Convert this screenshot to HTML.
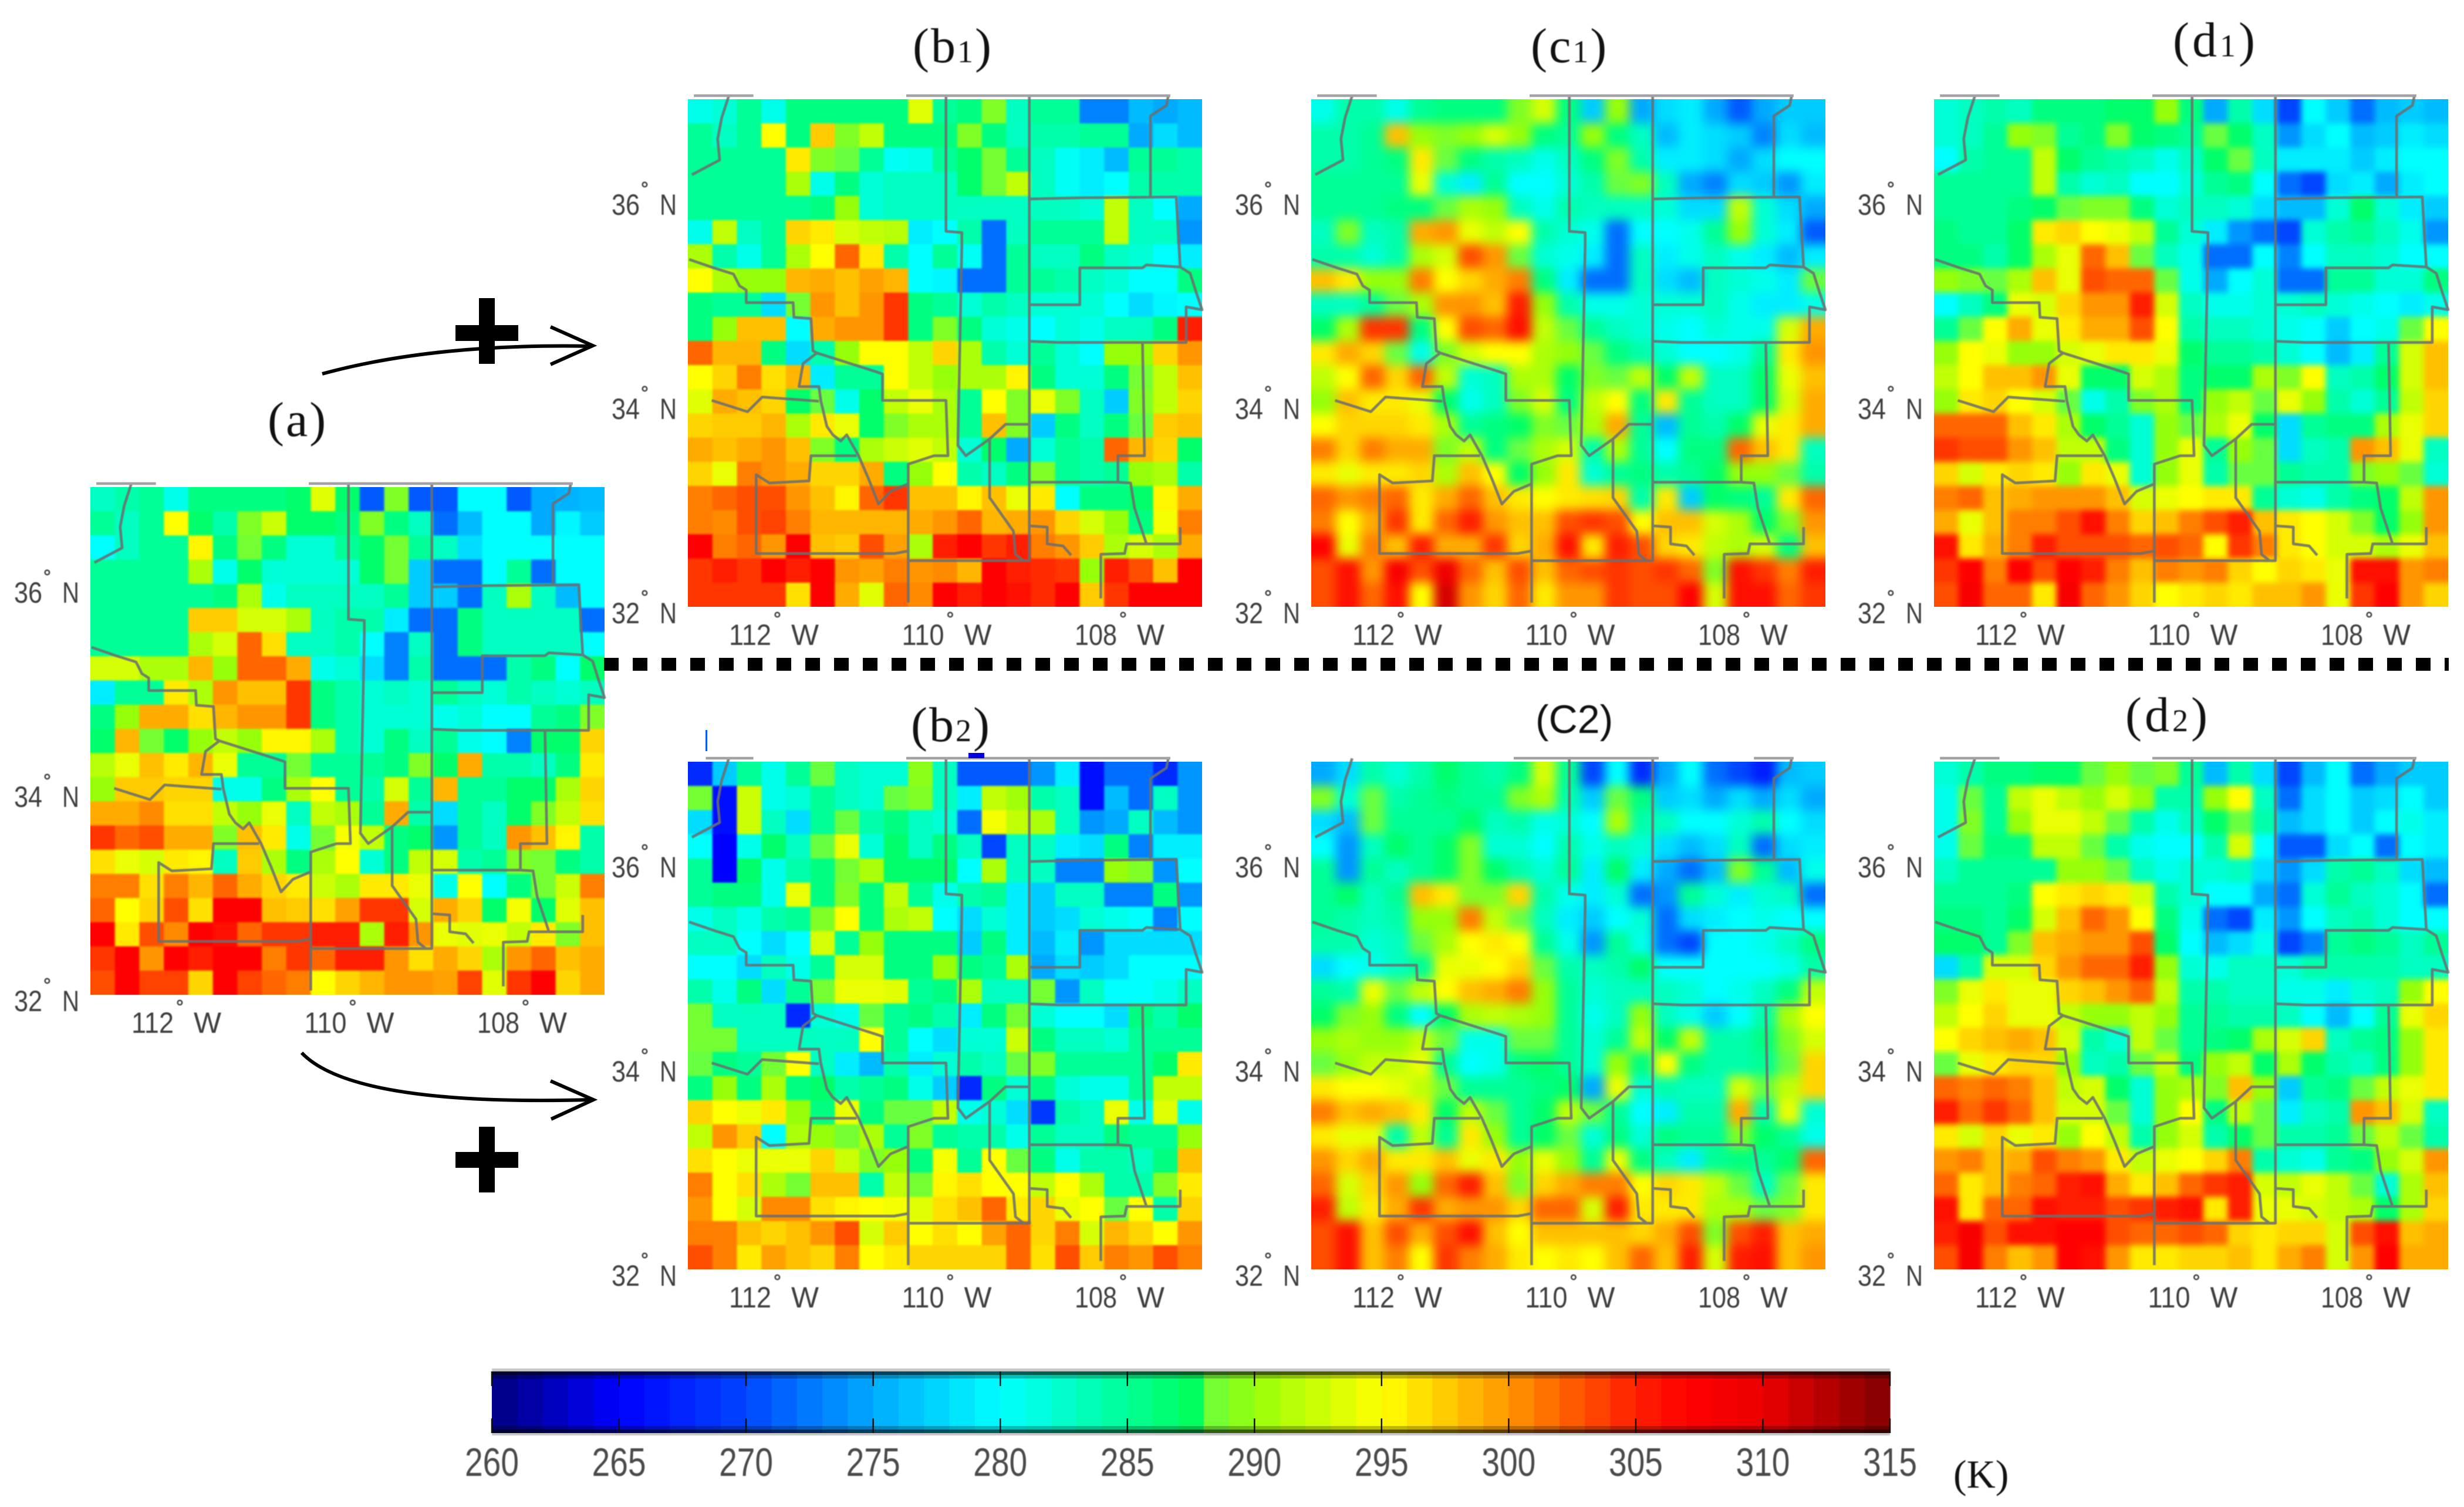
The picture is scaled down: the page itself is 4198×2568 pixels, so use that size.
<!DOCTYPE html>
<html lang="en">
<head>
<meta charset="utf-8">
<title>Brightness temperature maps</title>
<style>
html,body{margin:0;padding:0;background:#fff;}
svg{display:block;}
</style>
</head>
<body>
<svg id="figure" xmlns="http://www.w3.org/2000/svg" width="4198" height="2568" viewBox="0 0 4198 2568">
<defs>
<filter id="blurText" filterUnits="userSpaceOnUse" x="0" y="0" width="4198" height="2568" color-interpolation-filters="sRGB"><feGaussianBlur stdDeviation="0.9"/></filter>
<filter id="blurCoarse" filterUnits="userSpaceOnUse" x="0" y="0" width="4198" height="2568" color-interpolation-filters="sRGB"><feGaussianBlur stdDeviation="1.6"/></filter>
<filter id="blurSmooth" filterUnits="userSpaceOnUse" x="0" y="0" width="4198" height="2568" color-interpolation-filters="sRGB"><feGaussianBlur stdDeviation="9"/></filter>
<filter id="blurMedium" filterUnits="userSpaceOnUse" x="0" y="0" width="4198" height="2568" color-interpolation-filters="sRGB"><feGaussianBlur stdDeviation="5"/></filter>
</defs>
<rect width="4198" height="2568" fill="#ffffff"/>
<g id="panels"></g>

<g fill="#111" font-family="'Liberation Serif',serif" font-size="84" filter="url(#blurText)">
<text x="456" y="743" letter-spacing="3">(a)</text>
<text x="1555" y="106" letter-spacing="3">(b<tspan font-size="54">1</tspan>)</text>
<text x="2608" y="106" letter-spacing="3">(c<tspan font-size="54">1</tspan>)</text>
<text x="3702" y="96" letter-spacing="5">(d<tspan font-size="54">1</tspan>)</text>
<text x="1552" y="1263" letter-spacing="3">(b<tspan font-size="54">2</tspan>)</text>
<text x="2616" y="1249" font-family="'Liberation Sans',sans-serif" font-size="68">(C2)</text>
<text x="3621" y="1246" letter-spacing="5">(d<tspan font-size="54">2</tspan>)</text>
</g>

<line x1="1029" y1="1132" x2="4172" y2="1132" stroke="#000" stroke-width="22" stroke-dasharray="25 24"/>

<g fill="none" stroke="#000" stroke-width="6">
<path d="M549 637 Q740 585 1006 590"/>
<path d="M938 557 L1010 589 L938 621"/>
</g>
<g fill="none" stroke="#000" stroke-width="6">
<path d="M514 1794 Q600 1885 1006 1874"/>
<path d="M938 1842 L1011 1874 L939 1907"/>
</g>
<g fill="#000">
<rect x="776" y="554" width="107" height="27"/>
<rect x="816" y="508" width="27" height="112"/>
</g>
<g fill="#000">
<rect x="776" y="1963" width="107" height="27"/>
<rect x="816" y="1920" width="27" height="112"/>
</g>

<g fill="#0a5af0">
<rect x="1202" y="1244" width="3" height="36"/>
<rect x="1650" y="1283" width="27" height="9" fill="#0000e0"/>
</g>

<g id="colorbar"></g>
<text x="3328" y="2535" fill="#111" font-family="'Liberation Serif',serif" font-size="68" filter="url(#blurText)">(K)</text>
</svg>

<script>
const panelA = [
[283,284,285,281,286,286,286,286,287,293.5,287,271,289,271,271,280,280,271,275,275.5,276],
[285,283,285,295,287,284,289,292.5,287,287,286,289,286,283,272,276,280,280,275,279.5,277],
[280,283,285,285,295.5,286,288.5,286,282,282,285,287,288.5,285,283,278,280,280,280,280,280],
[285,285,285,285,291,281,287,282,282,282,282,287,288.5,277,272,272,280,285,272,280,280],
[285,285,285,285,285,286,291,281,283,283,283,283,285,277,277,272,283,291,283,276,280],
[285,285,285,285,297.5,297.5,293,293,291,283,284,284,279,272,272,286,283,283,283,283,272],
[285,285,285,285,291,293,302,296.5,283,283,284,280,273,283,272,286,283,283,283,283,280],
[293,293,291,291,298.5,290,302,302,299,281,282,278,273,284,272,272,272,284,286,280,287],
[279,285,285,296,291,300,298,298,304,286,284,282,283,282,285,283,282,284,283,282,283],
[286,290,299,299,296.5,298.5,300,300,304,286,284,282,282,282,281,282,280,280,285,286,289],
[287,298.5,288.5,287,290,292,290,295.5,295.5,291,284,282,286,283,285,281,280,273,287,287,297],
[291.5,294,298,296,298.5,294,285,285,288.5,285,285,285,286,289,287,299,284,284,283,286,296],
[290,297.5,297.5,297,297,281,281,286,291,295,285,284,293,285,298.5,285,285,287,287,291,297],
[299,299,300.5,296.5,296.5,292,290,294,283,292,291,285,299,284,278,285,283,287,289,292,296.5],
[304,302,303,299,299,289,298,296,281,288.5,294.5,292,286,287,274,285,283,300,298,295.5,284],
[296.5,294,293,296,295.5,283,297.5,291,286,291,295,282,286,292,293,284,285,289,288.5,286,284],
[301,301,296.5,301,298.5,302,299,297,296,292.5,291,296,296,294,281,295,280,286,288.5,292.5,301],
[302,295,297,303,296.5,307,307,298,297.5,296.5,299.5,304,304,293,299,297,287,294.5,287,293.5,298],
[307,296,303,300.5,307,306,302,304,304,305,305,291,305,300,294,293.5,294,292,296,289,298],
[304,307,300,307,305,307,307,301,304,302,305,305,300,296.5,299,297,291,300,302,298,299],
[303,307,303.5,303.5,297,307,303.5,302,301,295,297,298.5,300,300,299.5,303.5,293.5,304,307,297,299]
];
const panelB1 = [
[281,282,285,281,286,286,286,286,286,293.5,285,286,289,283,285,285,273,273,276,275,276],
[285,283,285,295,286,297.5,289,292,286,286,286,289,286,283,284,284,285,285,275,278,276],
[285,285,285,285,296,289,288,285,280.5,281,285,287,288.5,285,283,280.5,279,276,285,285,284],
[285,285,285,285,291,281,286,282,283,283,283,287,288.5,292,283,280.5,279,280,284,284,284],
[285,285,285,285,285,286,290,282,283,283,283,283,283,283,283,283,282,292,283,280,275],
[281,292,283,285,297,296,293,292,291.5,279,280,284,272,283,285,285,285,292,283,283,274],
[291,284,281,285,291,295,302,296,284,280,285,280.5,272,285,283,283,286,283,282,280,279],
[295,291,290,290,298.5,299,298,299.5,298.5,280,279.5,272,272,285,285,284,283,282,280,280,286],
[286,285,285,278,288.5,300,298,300,304,286,285,282,284,283,282,282,282,280,278,279.5,280],
[286,290,298,298,280,299,300,300,304,286,289,286,282,281,280,282,281,283,283,286,305],
[302,298.5,298.5,286,278,284,290,295,295,292,297,291,284,282,285,282,280,290,290,297,300],
[295,297,301,296.5,298.5,279,285,285,295,292,290,291,291,295.5,286,282,282,286,288.5,292,298],
[293.5,299,298,297,287,288,281,287,292,294,291,285,295,289,294,289,283,277,289,292,297],
[297,297.5,297.5,298.5,291,296,294,287,289,291,291,285,298,289,277,286,283,286,288,297.5,298],
[299,298,299,300,298,289,286,291,292.5,293.5,292,282,287,275,282,285,284,302,298.5,297,287],
[297,294,301,300,299,297,297,299,286,290,295,284,283,286,289,285,284,285,290,291,284],
[301,302,303,303,300,298,295.5,302,304,298,298,295.5,298,294,296,280,286,286,287,295.5,299],
[301,300.5,303,303.5,301,298.5,298.5,298.5,298.5,299,300,302,298.5,299,300,297,293,290,286,294.5,301],
[307,301,302,300,307,298,297.5,303,299.5,291,305,307,304,305,301,300,297.5,291,293,291,299],
[304,305,304,307,305,307,300,299.5,301,300,300.5,298.5,307,305,304.5,304,290,305,303,298,307],
[304,304,304,304,296.5,307,299,293.5,302,300.5,307,305,307,306,304.5,307,297.5,304,307,307,307]
];
const panelC1 = [
[281,284,284,281,285,286,286,286,289,293,286,277,290,275,278,279,275,271,275,277,277],
[284,284,285,298,290,289,290,293,290,286,285,290,286,283,276,279,278,277,273,278,276],
[284,284,285,286,296,288,286,284,283,281,283,286,289,284,279,279,278,275,278,280,280],
[285,285,285,285,294,282,279,285,280,280,282,284,288,289,283,275,273,278,277,274,279],
[285,285,285,286,286,288,291,290,283,281,284,283,283,283,282,278,278,292,282,278,275],
[283,289,283,284,299,300,294,292,295,284,282,281,272,280,280,281,285,290,282,279,271],
[284,284,282,284,291,293,303,300,288,282,281,279,272,283,279,281,283,281,279,276,279],
[298,296,290,290,301,295,297,299,301,286,279,272,272,283,278,276,283,282,281,279,288],
[283,283,285,288,291,300,300,298,305,290,284,281,281,282,282,282,283,281,279,279,281],
[287,291,304,304,286,295,303,302,306,292,288,285,283,282,281,280,282,281,281,293,299],
[296,299,297,288,281,289,293,295,295,291,290,288,286,284,282,280,280,281,285,296,300],
[292,295,302,297,302,292,282,283,291,291,287,289,288,292,287,292,283,283,287,294,298],
[290,298,296,296,294,287,281,283,289,293,286,292,295,286,296,285,283,283,287,293,299],
[295,297,297,297,296,291,285,286,287,289,288,291,299,285,276,285,284,287,294,296,299],
[301,297,301,299,299,289,292,286,288,291,293,284,291,285,280,286,286,302,298,296,283],
[296,294,296,296,297,291,298,295,287,290,296,282,285,286,284,285,287,290,290,288,284],
[302,300,301,302,296,299,302,298,296,295,296,296.5,297,284,296,277,287,286,285,296,302],
[301,295,299,304,296,302,305,300,298,298,303,304,303,295,298,298,293,291,287,289,300],
[307,294,301,298,305,299,299,304,297,299,306,296,305,303,297,296,292,291,293,286,298],
[303,306,300,308,303,309,302,298,303,298,302,303,304,303,304,302,289,306,304,301,305],
[303,306,302,306,295,311,300,297,302,296,300,300,304,303,303,307,293,306,306,302,304]
];
const panelD1 = [
[282,283,284,283,286,286,286,287,287,290,286,275,284,278,270,280,277,272,276,277,276],
[282,283,285,290,289,285,286,289,287,286,285,288,287,283,274,278,280,276,277,279,278],
[280,284,285,285,292,287,285,284,283,281,283,287,288,283,279,279,279,277,279,280,280],
[285,285,285,285,292,284,282,283,280,280,282,285,286,280,272,270,278,279,275,279,280],
[285,285,285,286,287,288,289,289,286,282,283,283,282,278,276,276,282,287,282,279,277],
[286,285,285,287,296,297,295,294,292,285,282,279,274,272,270,282,284,285,283,281,274],
[286,286,284,287,291,294,302,298,288,283,281,272,272,280,273,280,283,283,282,280,280],
[290,289,288,291,298,294,303,302,302,288,281,275,280,282,272,272,285,285,282,282,286],
[280,283,286,294,293,297,300,300,305,293,283,281,281,282,282,283,282,281,280,279,281],
[285,288,295,299,294,296,299,299,303,295,284,283,283,282,281,280,277,280,281,288,295],
[290,295,294,290,290,293,294,296,296,294,287,285,285,284,282,280,276,279,285,293,298],
[292,295,298,298,300,294,287,287,293,291,286,287,287,291,289,295,283,284,287,293,298],
[290,296,297,295,293,288,281,284,289,291,286,290,292,288,294,290,284,282,285,292,297],
[302,302,302,298,296,291,287,285,282,290,288,291,294,287,278,285,286,286,291,294,297],
[304,303,303,300,298,292,292,286,282,290,294,285,290,288,278,283,284,300,298,294,283],
[297,293,296,297,296,290,296,294,282,290,294,284,288,288,285,284,284,289,290,288,282],
[301,302,298,299,300,300,300,298,293,294,295,296,296,285,282,281,284,286,287,292,300],
[299,294,298,301,301,303,306,301,297,298,301,303,305,298,296,295,293,289,287,290,300],
[306,296,299,301,305,303,303,303,302,303,302,295,304,301,296,295,293,293,291,294,298],
[304,307,301,307,303,307,305,301,298,301,300,301,297,295,297,296,294,306,306,300,301],
[303,308,302,302,296,308,302,300,297,295,296,297,296,298,298,300,294,304,307,300,297]
];
const panelB2 = [
[268,277,285,281,285,288,283,282,282,289.5,283,271,271,271,274,279,266,272,272,268,274],
[288.5,266,292.5,281,282,285,283,282,288,289,283,279,292,290.5,284,283,266,276,272,283,274],
[278,266,292.5,283,278,285,288,284,286,283,282,272,294.5,292,291,283,274,275,283,276,274],
[280,265,281,287,283,288,294,282,287,283,286,283,270,283,283,279,278,286,273,279,279],
[285,265,287,281,284,286,288.5,291,287,287,287,280,291,283,283,273,273,290,289,274,280],
[285,286,286,281,294,286,289,286,292,285,281,284,285,279,277,283,283,273,273,286,274],
[281,283,281,284,285,289,295,286,291,292,280,278,282,279,277,278,282,281,280,273,280],
[283,283,280,278,280,293,285,290,286,286,286,277,286,279,276,279,274,278,278,278,278],
[280,280,278,283,281,285,293,293,286,286,290,286,285,291,275,278,277,278,280,280,280],
[284,281,286,278,285,288.5,294,294,293.5,285,286,291,283,283,288.5,274,283,280,280,281,283],
[288.5,283,283,283,268,282,281,288,285,286,284,279,286,288.5,282,280,280,278,286,284,287],
[288.5,288.5,283,283,283,283,283,295,285,280,278,282,282,292.5,286,283,283,282,285,285,285],
[288,286,285,288.5,295,283,279,276,284,279,282,284,283,288,289,285,285,285,285,287,296],
[286,290,286,291,286,287,284,285,286,281,277,268,286,282,286,282,281,281,285,292,292],
[297,295,294,296,290,286,294,286,288,288,292,281,282,278,269,284,283,294,281,293.5,281],
[292,300,297.5,280,291,290,288.5,291,285,289,285,284,284,281,285,283,283,286,285,285,290],
[296.5,295,294,294,294,297,292.5,289,290,286,294.5,285,295,288,286,281,284,284,283,286,298],
[301,295,296.5,291,288.5,298,298,284,292,288.5,295.5,296.5,295,295,292,295,291,284,284,289,296],
[300,295,293,300.5,300.5,296.5,295.5,295,294.5,293.5,296.5,298,302,296,297,294,295,288,295,284,297],
[301,301,298,297,298,300,303,293,297.5,295,296.5,295,299.5,302,297,301,293,298.5,297,295,300],
[303,301,296,299.5,298,297,301,295,296,297,297,297,297,302,296.5,303,297.5,301,300,303,301]
];
const panelC2 = [
[275,278,284,282,284,287,285,284,286,293,285,270,280,268,275,280,272,270,267,276,277],
[289,282,288,284,285,286,285,285,289,291,284,277,288,286,277,278,275,278,275,278,275],
[278,276,288,285,285,285,287,283,284,281,282,280,291,284,283,280,280,282,284,280,278],
[280,274,283,287,285,287,289,282,282,280,284,281,283,282,278,276,278,283,272,278,279],
[285,274,285,283,285,287,289,287,284,282,285,279,287,279,275,272,276,289,285,276,281],
[285,287,283,285,298,296,289,289,297,284,281,279,282,272,274,285,282,279,282,283,272],
[285,284,283,284,290,290,301,292,288,283,279,277,280,282,272,278,279,280,281,280,280],
[284,284,282,283,288,291,295,296,295,285,281,274,285,281,272,270,280,280,281,283,286],
[278,280,281,283,285,294,294,295,297,288,284,283,284,287,280,280,280,280,280,281,284],
[285,284,294,288,292,295,298,299,301,290,285,282,283,283,283,282,280,281,283,286,292],
[287,289,290,286,280,287,291,292,291,290,285,281,283,290,283,281,277,280,284,291,295],
[290,291,290,290,292,288,281,281,288,288,285,282,285,292,287,292,284,284,286,289,293],
[288,290,292,292,294,285,280,281,286,287,285,282,290,286,295,286,284,284,285,288,297],
[296,295,295,294,292,288,285,285,285,286,287,275,294,282,284,283,283,293,288,292,297],
[301,298,299,298,296,287,292,288,285,287,292,288,285,280,279,284,284,299,284,294,282],
[296,294,294,284,292,285,296,290,285,287,288,282,286,282,286,285,285,289,287,285,281],
[300,297,299,296,296,298,294,296,290,294,290,285,294,286,283,279,285,286,285,287,302],
[302,293,297,300,290,302,305,298,289,297,299,301,301,295,297,296,292,288,283,288,296],
[305,292,296,299,304,299,300,300,297,302,302,293,305,296,296,296,291,291,288,289,296],
[303,306,298,303,299,303,306,298,295,298,298,298,298,297,299,303,289,303,305,298,299],
[303,306,298,301,295,304,301,299,296,295,296,295,298,302,298,305,293,305,306,298,300]
];
const panelD2 = [
[282,284,286,286,287,287,288,290,288,289,285,276,284,278,270,276,280,272,275,277,277],
[281,288,285,292,294,292,290,293,290,284,284,290,295,283,272,278,280,277,278,280,277],
[281,289,285,290,294,294,292,288,284,281,283,287,288,284,276,278,280,277,280,281,279],
[281,288,286,286,292,292,288,284,281,280,280,284,293,280,271,271,278,280,272,280,279],
[283,285,285,285,285,290,290,288,283,281,282,282,283,278,274,278,284,285,283,278,276],
[285,285,285,286,295,296,297,296,293,284,282,280,280,275,272,282,285,283,282,280,272],
[286,286,285,287,293,298,302,300,295,286,281,272,270,279,274,280,283,284,282,280,280],
[287,287,285,289,298,299,300,300,303,287,280,276,278,281,270,273,285,286,285,283,285],
[278,284,293,293,297,300,302,302,305,290,282,281,283,283,282,284,284,284,284,283,283],
[289,294,296,294,294,297,298,300,302,292,284,284,283,283,281,281,279,282,283,290,295],
[292,295,297,294,294,292,290,290,292,290,285,285,284,284,283,280,276,280,285,294,297],
[295,297,298,299,298,293,284,282,292,288,285,286,287,291,293,297,283,285,286,290,296],
[288,294,296,297,297,290,283,284,288,292,286,290,292,287,291,287,284,283,286,290,296],
[302,301,302,301,298,292,293,287,282,290,291,289,298,290,277,285,286,288,292,294,296],
[305,302,304,302,298,293,293,288,282,290,295,286,292,288,279,283,284,300,298,293,283],
[296,293,297,294,296,290,295,292,284,290,293,284,287,288,284,284,285,288,292,288,284],
[300,301,298,299,303,301,300,296,292,294,295,297,301,284,282,281,285,286,290,293,300],
[302,296,298,301,302,305,306,299,296,298,302,304,305,293,292,294,292,288,282,291,298],
[306,296,302,302,306,305,305,303,304,305,306,296,305,294,294,293,292,291,287,291,297],
[305,308,303,306,306,307,307,303,302,302,303,302,297,296,297,297,293,303,306,298,299],
[303,308,301,298,300,307,306,300,296,296,297,297,298,296,299,301,293,300,307,299,299]
];
const latTicks = [36,34,32];
const lonTicks = [112,110,108];
const colorbarTicks = [260,265,270,275,280,285,290,295,300,305,310,315];

const colorStops = [[260,0,0,127],[265,0,0,255],[270,0,70,255],[275,0,170,255],[280,0,255,255],[285,0,255,150],[287.7,0,255,90],[287.8,100,255,70],[290,150,255,10],[295,255,255,0],[300,255,150,0],[305,255,30,0],[307,255,0,0],[310,235,0,0],[315,128,0,0]];

const boundaryLines = [
[[328,187],[310,240],[300,290],[305,340],[235,375]],
[[228,577],[290,597],[340,612],[355,640],[372,650],[372,680],[490,680],[492,715],[535,718],[540,795],[550,800],[600,815],[700,845],[715,850],[715,913],[875,913],[880,1045],[845,1045],[780,1065],[780,1395]],
[[550,800],[515,825],[505,880],[555,880],[560,915],[575,975],[590,995],[610,1010],[625,995],[640,1020],[655,1045],[680,1100],[705,1160],[735,1130],[780,1112]],
[[285,913],[375,940],[412,905],[555,915]],
[[650,1045],[535,1045],[530,1105],[430,1110],[397,1090],[397,1278],[745,1278],[780,1272]],
[[875,187],[875,510],[915,513],[915,545],[908,880],[905,1020],[925,1045],[985,1005],[1025,970],[1085,970]],
[[1085,187],[1085,1295],[780,1295]],
[[985,1005],[985,1145],[1045,1225],[1050,1280],[1070,1295]],
[[1085,433],[1215,430],[1455,428],[1465,595],[1380,590],[1370,597],[1212,597],[1212,685],[1085,685]],
[[1390,428],[1390,235],[1430,210],[1435,187]],
[[1465,595],[1490,610],[1505,655],[1520,697],[1480,690],[1480,775],[1160,775],[1085,772]],
[[1370,775],[1375,1045],[1308,1045],[1308,1108],[1085,1108]],
[[1308,1108],[1340,1110],[1350,1170],[1380,1255],[1465,1255],[1465,1215]],
[[1380,1255],[1330,1255],[1325,1278],[1265,1280],[1265,1385]],
[[1085,1212],[1130,1215],[1130,1255],[1170,1260],[1190,1282]]
];

const panels = [
  {id:'a', data:panelA, left:154, top:830, filter:'blurCoarse', rim:[[240,390],[775,1440]]},
  {id:'b1', data:panelB1, left:1172, top:169, filter:'blurCoarse', rim:[[240,390],[775,1440]]},
  {id:'c1', data:panelC1, left:2234, top:169, filter:'blurSmooth', rim:[[240,390],[775,1440]]},
  {id:'d1', data:panelD1, left:3295, top:169, filter:'blurMedium', rim:[[240,390],[775,1440]]},
  {id:'b2', data:panelB2, left:1172, top:1298, filter:'blurCoarse', rim:[[270,390],[775,1440]]},
  {id:'c2', data:panelC2, left:2234, top:1298, filter:'blurSmooth', rim:[[735,1100],[1340,1440]]},
  {id:'d2', data:panelD2, left:3295, top:1298, filter:'blurMedium', rim:[[240,390],[775,1440]]}
];
const panelW = 876, panelH = 865, SVGNS = 'http://www.w3.org/2000/svg';

function colorFor(v){
  if(v <= colorStops[0][0]) return 'rgb(0,0,127)';
  for(let i = 1; i < colorStops.length; i++){
    const a = colorStops[i-1], b = colorStops[i];
    if(v <= b[0]){
      const t = (v-a[0])/(b[0]-a[0]);
      return 'rgb('+Math.round(a[1]+(b[1]-a[1])*t)+','+Math.round(a[2]+(b[2]-a[2])*t)+','+Math.round(a[3]+(b[3]-a[3])*t)+')';
    }
  }
  return 'rgb(128,0,0)';
}
function make(tag, attrs, parent){
  const el = document.createElementNS(SVGNS, tag);
  for(const k in attrs) el.setAttribute(k, attrs[k]);
  parent.appendChild(el);
  return el;
}
const mapX = (p,u) => p.left + (u-225)/1295*panelW;
const mapY = (p,v) => p.top + (v-195)/1210*panelH;
const latY = (p,lat) => p.top + 893 - (lat-32)*174;
const lonX = (p,lon) => p.left + 70 + (112-lon)*147.25;
const cbX = v => 838 + (v-260)/(315-260)*(3220-838);

const root = document.getElementById('panels');
const defs = document.querySelector('defs');
panels.forEach(function(p){
  const clip = make('clipPath', {id:'clip-'+p.id}, defs);
  make('rect', {x:p.left, y:p.top, width:panelW, height:panelH}, clip);

  const g = make('g', {}, root);
  
  

  const clipG = make('g', {'clip-path':'url(#clip-'+p.id+')'}, g);
  const cells = make('g', {filter:'url(#'+p.filter+')'}, clipG);
  
  

  const rows = p.data.length, cols = p.data[0].length;
  const cw = panelW/cols, ch = panelH/rows, pad = 60;
  p.data.forEach(function(row, r){
    row.forEach(function(val, c){
      const x0 = p.left + c*cw - (c === 0 ? pad : 0);
      const x1 = p.left + (c+1)*cw + (c === cols-1 ? pad : 0);
      const y0 = p.top + r*ch - (r === 0 ? pad : 0);
      const y1 = p.top + (r+1)*ch + (r === rows-1 ? pad : 0);
      const cell = make('rect', {x:x0.toFixed(2), y:y0.toFixed(2), width:(x1-x0+0.6).toFixed(2), height:(y1-y0+0.6).toFixed(2), fill:colorFor(val)}, cells);
      
      
    });
  });

  const lines = make('g', {fill:'none', stroke:'#6b6f70', 'stroke-width':'4.6', 'stroke-linejoin':'round', opacity:'0.88', filter:'url(#blurText)'}, g);
  
  
  boundaryLines.forEach(function(line){
    const pts = line.map(function(q){ return mapX(p,q[0]).toFixed(1)+','+mapY(p,q[1]).toFixed(1); }).join(' ');
    const b = make('polyline', {points:pts}, lines);
    
    
  });
  p.rim.forEach(function(seg){
    const rim = make('line', {x1:mapX(p,seg[0]), x2:mapX(p,seg[1]), y1:p.top-6, y2:p.top-6, stroke:'#a2a2a6', 'stroke-width':'4.5'}, g);
    
    
  });

  const labels = make('g', {fill:'#3f3f3f', 'font-family':"'Liberation Sans',sans-serif", 'font-size':'50', filter:'url(#blurText)'}, g);
  
  
  latTicks.forEach(function(lat){
    const y = latY(p,lat);
    const t = make('text', {x:p.left-130, y:y, textLength:'48', lengthAdjust:'spacingAndGlyphs'}, labels);
    t.textContent = String(lat);
    
    
    const d = make('text', {x:p.left-80, y:y-34, 'font-size':'32', 'font-weight':'bold'}, labels);
    d.textContent = '°';
    
    
    const n = make('text', {x:p.left-48, y:y, textLength:'29', lengthAdjust:'spacingAndGlyphs'}, labels);
    n.textContent = 'N';
    
    
  });
  lonTicks.forEach(function(lon){
    const x = lonX(p,lon), y = p.top + panelH + 65;
    const t = make('text', {x:x, y:y, textLength:'72', lengthAdjust:'spacingAndGlyphs'}, labels);
    t.textContent = String(lon);
    
    
    const d = make('text', {x:x+76, y:y-34, 'font-size':'32', 'font-weight':'bold'}, labels);
    d.textContent = '°';
    
    
    const w = make('text', {x:x+106, y:y, textLength:'47', lengthAdjust:'spacingAndGlyphs'}, labels);
    w.textContent = 'W';
    
    
  });
});

const cb = document.getElementById('colorbar');
make('rect', {x:838, y:2332, width:2382, height:114, fill:'#c4c4c4', filter:'url(#blurText)'}, cb);
const bands = make('g', {}, cb);


for(let v = 260; v < 315; v += 1){
  const band = make('rect', {x:cbX(v).toFixed(2), y:2337, width:(cbX(v+1)-cbX(v)+0.6).toFixed(2), height:105, fill:colorFor(v+0.5)}, bands);
  
  
}
make('rect', {x:838, y:2337, width:2382, height:6, fill:'#000', opacity:'0.62'}, cb);
make('rect', {x:838, y:2343, width:2382, height:6, fill:'#000', opacity:'0.25'}, cb);
make('rect', {x:838, y:2436, width:2382, height:6, fill:'#000', opacity:'0.62'}, cb);
make('rect', {x:838, y:2430, width:2382, height:6, fill:'#000', opacity:'0.25'}, cb);
const cbText = make('g', {fill:'#4a4a4a', 'font-family':"'Liberation Sans',sans-serif", 'font-size':'68', filter:'url(#blurText)'}, cb);
colorbarTicks.forEach(function(v){
  const x = cbX(v);
  const t1 = make('line', {x1:x, x2:x, y1:2337, y2:2362, stroke:'#111', 'stroke-width':'2.5'}, cb);
  
  
  const t2 = make('line', {x1:x, x2:x, y1:2417, y2:2442, stroke:'#111', 'stroke-width':'2.5'}, cb);
  
  
  const label = make('text', {x:x-46, y:2515, textLength:'92', lengthAdjust:'spacingAndGlyphs'}, cbText);
  label.textContent = String(v);
  
  
});
</script>
</body>
</html>
